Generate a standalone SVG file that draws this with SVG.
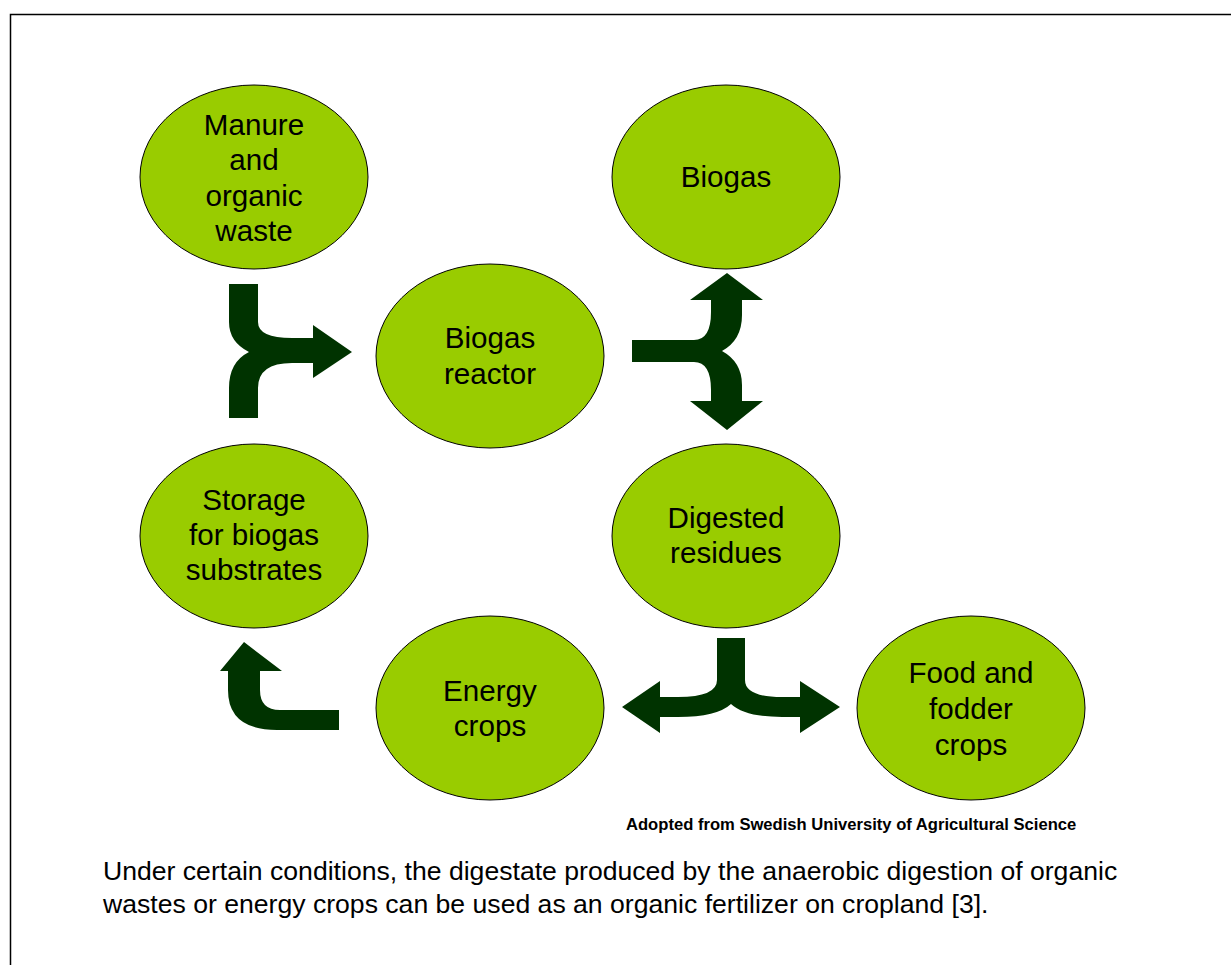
<svg xmlns="http://www.w3.org/2000/svg" width="1231" height="965" viewBox="0 0 1231 965">
<style>
.node ellipse{fill:#99CC00;stroke:#000;stroke-width:1}
.node text{font-family:"Liberation Sans",Arial,sans-serif;font-size:29.6px;fill:#000;text-anchor:middle}
.arrow{fill:#003300;stroke:none}
.credit{font-family:"Liberation Sans",Arial,sans-serif;font-size:16.6px;font-weight:bold;fill:#000}
.caption{font-family:"Liberation Sans",Arial,sans-serif;font-size:26.6px;fill:#000}
</style>
<rect x="10.5" y="14.5" width="1240" height="970" fill="#fff" stroke="#000" stroke-width="1.5"/>
<g id="manure" class="node">
<ellipse cx="254" cy="177" rx="114" ry="92"/>
<text x="254" y="135">Manure</text>
<text x="254" y="170">and</text>
<text x="254" y="206">organic</text>
<text x="254" y="241">waste</text>
</g>
<g id="biogas" class="node">
<ellipse cx="726" cy="177" rx="114" ry="92"/>
<text x="726" y="187">Biogas</text>
</g>
<g id="reactor" class="node">
<ellipse cx="490" cy="356" rx="114" ry="92"/>
<text x="490" y="348">Biogas</text>
<text x="490" y="384">reactor</text>
</g>
<g id="storage" class="node">
<ellipse cx="254" cy="536" rx="114" ry="92"/>
<text x="254" y="510">Storage</text>
<text x="254" y="545">for biogas</text>
<text x="254" y="580">substrates</text>
</g>
<g id="residues" class="node">
<ellipse cx="726" cy="536" rx="114" ry="92"/>
<text x="726" y="528">Digested</text>
<text x="726" y="563">residues</text>
</g>
<g id="energy" class="node">
<ellipse cx="490" cy="708" rx="114" ry="92"/>
<text x="490" y="701">Energy</text>
<text x="490" y="736">crops</text>
</g>
<g id="food" class="node">
<ellipse cx="971" cy="708" rx="114" ry="92"/>
<text x="971" y="683">Food and</text>
<text x="971" y="719">fodder</text>
<text x="971" y="755">crops</text>
</g>
<g id="connectors">
<path class="arrow" d="M229,284 L258,284 L258,322 Q258,338 292,338 L313,338 L313,325 L352,352 L313,378 L313,363 L292,363 Q258,363 258,388 L258,418 L229,418 L229,388 Q229,362 249,352 Q229,342 229,322 Z"/>
<path class="arrow" d="M632,340 L694,340 Q711,340 711,312 L711,300 L690,300 L727,273 L763,300 L742,300 L742,315 Q742,340 722,351 Q742,362 742,385 L742,401 L763,401 L727,430 L690,401 L711,401 L711,390 Q711,362 694,362 L632,362 Z"/>
<path class="arrow" d="M717,638 L745,638 L745,680 Q745,697 782,697 L800,697 L800,681 L840,707 L800,733 L800,717 L782,717 Q745,717 731,704 Q717,717 678,717 L660,717 L660,733 L622,707 L660,681 L660,697 L678,697 Q717,697 717,680 Z"/>
<path class="arrow" d="M339,710 L280,710 Q260,710 260,690 L260,671 L282,671 L244,642 L220,671 L228,671 L228,690 Q228,730 277,730 L339,730 Z"/>
</g>
<text class="credit" x="626" y="830">Adopted from Swedish University of Agricultural Science</text>
<text class="caption" x="103" y="880">Under certain conditions, the digestate produced by the anaerobic digestion of organic</text>
<text class="caption" x="103" y="913">wastes or energy crops can be used as an organic fertilizer on cropland [3].</text>
</svg>
